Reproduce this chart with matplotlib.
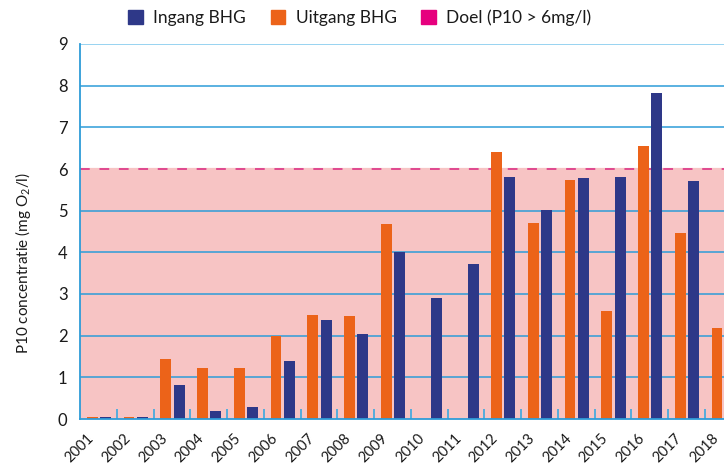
import matplotlib
matplotlib.use("Agg")
import matplotlib.pyplot as plt
from matplotlib.patches import Patch
import numpy as np

years = ["2001", "2002", "2003", "2004", "2005", "2006", "2007", "2008", "2009",
         "2010", "2011", "2012", "2013", "2014", "2015", "2016", "2017", "2018"]
uitgang = [0.05, 0.05, 1.44, 1.22, 1.22, 1.99, 2.50, 2.47, 4.68,
           0.0, 0.0, 6.41, 4.70, 5.74, 2.59, 6.55, 4.46, 2.18]
ingang = [0.05, 0.05, 0.82, 0.19, 0.29, 1.39, 2.38, 2.04, 4.01,
          2.90, 3.72, 5.81, 5.02, 5.78, 5.81, 7.82, 5.71, np.nan]
doel = 6.0
y_ticks = list(range(0, 10))

BLUE = "#2E3888"
ORANGE = "#EC6319"
MAGENTA = "#E6007E"
PINK = "#F7C4C4"
GRID = "#2E9CD8"
TXT = "#1a1a1a"

plt.rcParams['font.family'] = ['Lato', 'DejaVu Sans']
plt.rcParams['mathtext.fontset'] = 'custom'
plt.rcParams['mathtext.rm'] = 'Lato'
plt.rcParams['mathtext.it'] = 'Lato'

fig = plt.figure(figsize=(7.24, 4.69), dpi=100)
ax = fig.add_axes([80/724, 1-419/469, 1-80/724, (419-44)/469])

x = np.arange(len(years))
ax.axhspan(0, doel, color=PINK, zorder=0, lw=0)
for yv in y_ticks[1:]:
    ax.axhline(yv, color=GRID if yv != 9 else "#7CC8EE", lw=1.1, zorder=1)
ax.axhline(doel, color=PINK, lw=1.6, zorder=1.5)
ax.axhline(doel, color="#E0488F", lw=1.4, ls=(0, (5, 5)), zorder=1.6)

ax.bar(x + 0.19, uitgang, width=0.29, align='edge', color=ORANGE, zorder=3)
ax.bar(x + 0.545, ingang, width=0.30, align='edge', color=BLUE, zorder=3)

ax.set_xlim(0, 644/36.75)
ax.set_ylim(0, 9)
ax.set_yticks(y_ticks)
ax.set_yticklabels([str(v) for v in y_ticks], fontsize=12, color=TXT)
ax.tick_params(axis='y', length=0, pad=9)

ax.set_xticks(x + 0.18)
ax.set_xticklabels(years, rotation=45, ha='right', va='top',
                   rotation_mode='anchor', fontsize=10.5, color=TXT)
ax.tick_params(axis='x', which='major', length=0, pad=8.5)
ax.set_xticks(np.arange(1, len(years)), minor=True)
ax.tick_params(axis='x', which='minor', direction='in', length=7,
               width=1.2, color="#3AA8E0")

for s in ['top', 'right']:
    ax.spines[s].set_visible(False)
for s in ['left', 'bottom']:
    ax.spines[s].set_color("#2E9CD8")
    ax.spines[s].set_linewidth(1.3)
    ax.spines[s].set_zorder(4)

ax.set_ylabel(r'P10 concentratie (mg O$_2$/l)', fontsize=11, color=TXT)
ax.yaxis.set_label_coords(-0.073, 0.417)

handles = [Patch(color=BLUE, label='Ingang BHG'),
           Patch(color=ORANGE, label='Uitgang BHG'),
           Patch(color=MAGENTA, label='Doel (P10 > 6mg/l)')]
fig.legend(handles=handles, loc='center', bbox_to_anchor=(0.497, 0.962),
           ncol=3, frameon=False, fontsize=12.5, handlelength=0.85,
           handleheight=0.85, handletextpad=0.6, columnspacing=1.4,
           labelcolor=TXT)

fig.savefig("out.png", dpi=100)
